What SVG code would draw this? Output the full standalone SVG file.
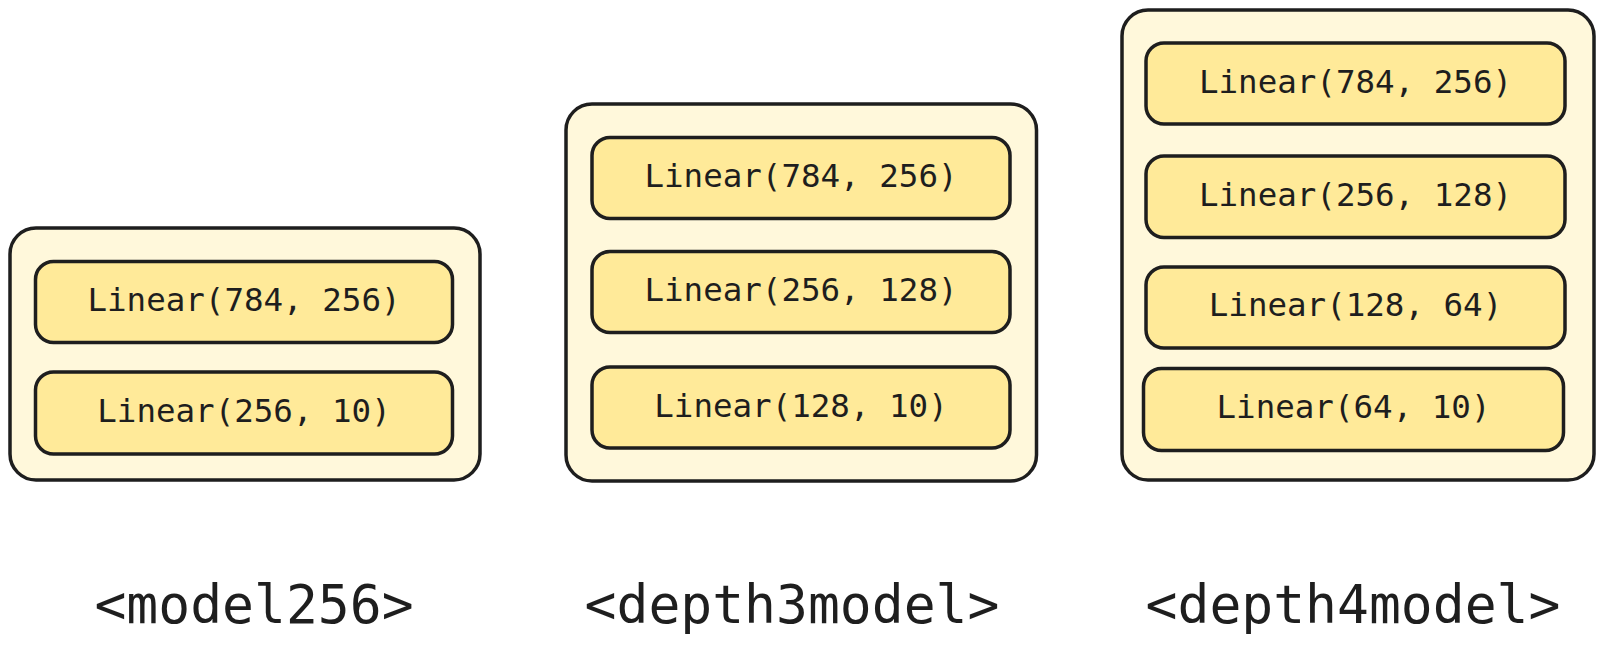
<svg xmlns="http://www.w3.org/2000/svg" width="1602" height="655" viewBox="0 0 1602 655">
<style>
.outer{fill:#fff8db;stroke:#1e1e1e;stroke-width:3.5}
.inner{fill:#ffea99;stroke:#1e1e1e;stroke-width:3.5}
.lbl{font-family:"DejaVu Sans Mono","Liberation Mono",monospace;font-size:32.5px;fill:#1e1e1e;text-anchor:middle}
.title{font-family:"DejaVu Sans Mono","Liberation Mono",monospace;font-size:53px;fill:#1e1e1e;text-anchor:middle}
</style>
<rect width="1602" height="655" fill="#ffffff"/>
<g id="model256">
<rect class="outer" x="10" y="228" width="470" height="252" rx="26"/>
<g id="m1l1"><rect class="inner" x="35.5" y="261.5" width="417" height="81" rx="18"/><text class="lbl" x="244" y="311">Linear(784, 256)</text></g>
<g id="m1l2"><rect class="inner" x="35.5" y="372" width="417" height="82" rx="18"/><text class="lbl" x="244" y="422">Linear(256, 10)</text></g>
<text class="title" x="254" y="623">&lt;model256&gt;</text>
</g>
<g id="depth3model">
<rect class="outer" x="566" y="104" width="470.5" height="377" rx="26"/>
<g id="m2l1"><rect class="inner" x="592" y="137.5" width="418" height="81" rx="18"/><text class="lbl" x="801" y="187">Linear(784, 256)</text></g>
<g id="m2l2"><rect class="inner" x="592" y="251.5" width="418" height="81" rx="18"/><text class="lbl" x="801" y="301">Linear(256, 128)</text></g>
<g id="m2l3"><rect class="inner" x="592" y="367" width="418" height="81" rx="18"/><text class="lbl" x="801" y="417">Linear(128, 10)</text></g>
<text class="title" x="792" y="623">&lt;depth3model&gt;</text>
</g>
<g id="depth4model">
<rect class="outer" x="1122" y="10" width="472" height="470" rx="26"/>
<g id="m3l1"><rect class="inner" x="1146" y="43" width="419" height="81" rx="18"/><text class="lbl" x="1355.5" y="92.5">Linear(784, 256)</text></g>
<g id="m3l2"><rect class="inner" x="1146" y="156" width="419" height="81.5" rx="18"/><text class="lbl" x="1355.5" y="206">Linear(256, 128)</text></g>
<g id="m3l3"><rect class="inner" x="1146" y="267" width="419" height="81" rx="18"/><text class="lbl" x="1355.5" y="316">Linear(128, 64)</text></g>
<g id="m3l4"><rect class="inner" x="1143.5" y="368.5" width="420" height="82" rx="18"/><text class="lbl" x="1353.5" y="418">Linear(64, 10)</text></g>
<text class="title" x="1353" y="623">&lt;depth4model&gt;</text>
</g>
<g id="connectors"/>
</svg>
